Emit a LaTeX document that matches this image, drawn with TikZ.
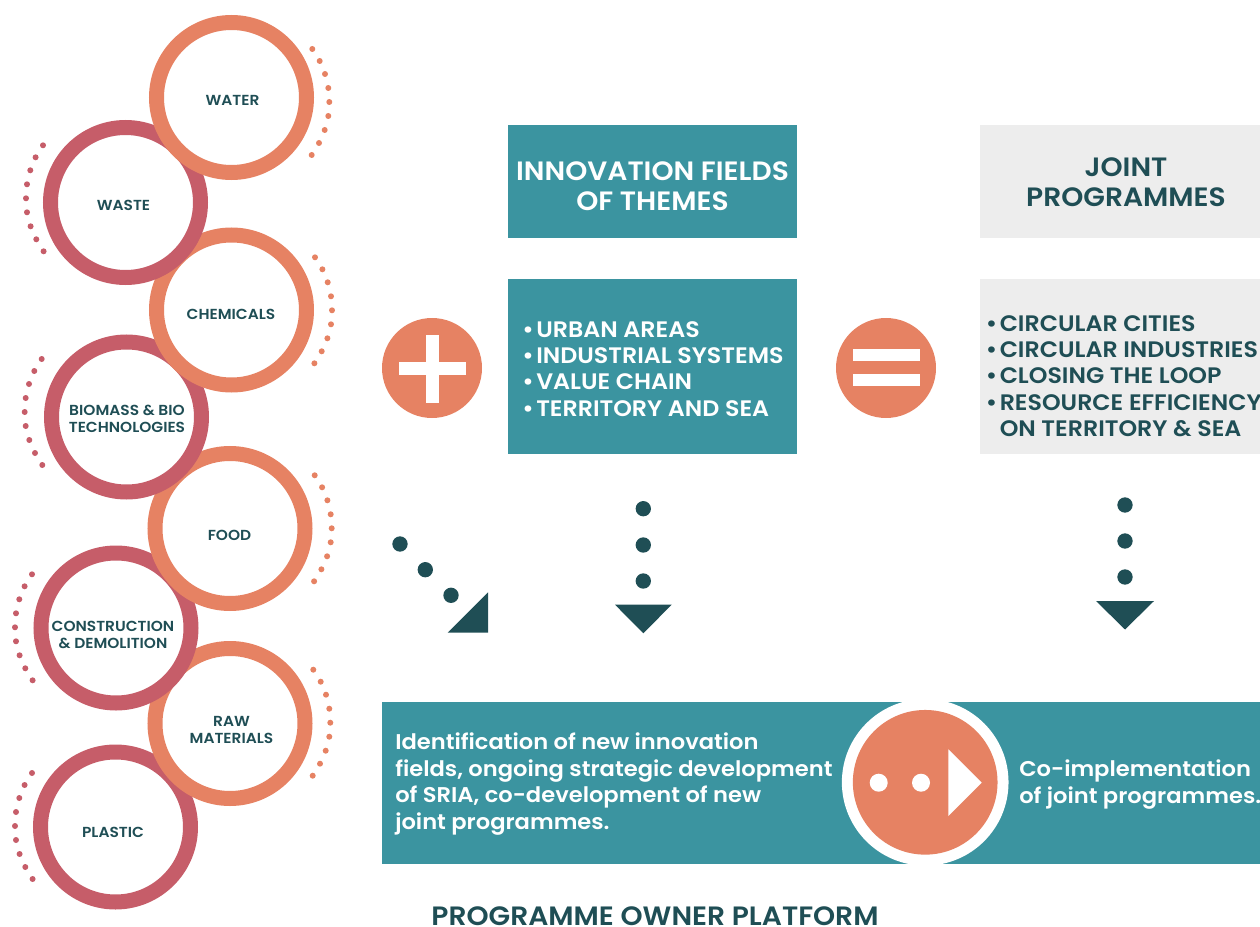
\documentclass[tikz,border=0pt]{standalone}
\usepackage{fontspec}
\setmainfont{Poppins}[BoldFont={Poppins SemiBold},BoldFeatures={FakeStretch=1.06}]
\definecolor{ink}{HTML}{1F4E55}
\definecolor{coral}{HTML}{E68263}
\definecolor{rose}{HTML}{C65D69}
\definecolor{teal}{HTML}{3B94A0}
\definecolor{pale}{HTML}{EDEDED}
\newcommand{\fs}[2]{\fontsize{#1}{#2}\selectfont\bfseries}
\newcommand{\bul}{\makebox[10.5pt][l]{•}}
\newcommand{\nobul}{\hspace*{10.5pt}}
\newcommand{\dotarc}[4]{% x y sign colour
  \foreach \dx/\dy in {-17/-53,-9.6/-41,-4.3/-28,-1/-14,0/0,-1/14,-4.6/28,-10.3/41,-17.6/53}
    \fill[#4] ({#1+#3*\dx},{#2+\dy}) circle (3);
}
\tikzset{
  x=0.75pt,y=-0.75pt,
  ring/.style={circle,draw=#1,line width=11.25pt,fill=white,minimum size=112.5pt,inner sep=0pt},
  ringlabel/.style={font=\fs{10.9}{12.8},text=ink,align=center,inner sep=0pt},
  head/.style={font=\fs{19.9}{22.3},align=center,inner sep=0pt},
  listing/.style={font=\fs{16.8}{19.6},align=left,inner sep=0pt,anchor=north west},
  band/.style={font=\fs{16}{19.9},text=white,align=left,inner sep=0pt,anchor=north west},
  ball/.style={circle,fill=#1,inner sep=0pt,minimum size=11.5pt},
  panel/.style={fill=#1,draw=none}
}
\begin{document}
\begin{tikzpicture}
\useasboundingbox (0,0) rectangle (1260,927);
% rings, lowest first
\dotarc{15}{826}{-1}{rose}
\node[ring=rose] (plastic) at (115.5,827) {};
\dotarc{330.3}{722.7}{1}{coral}
\node[ring=coral] (raw) at (230,723.5) {};
\dotarc{15}{627.3}{-1}{rose}
\node[ring=rose] (construction) at (116,628) {};
\dotarc{331.7}{528.3}{1}{coral}
\node[ring=coral] (food) at (230,528.5) {};
\dotarc{24.7}{412}{-1}{rose}
\node[ring=rose] (biomass) at (126.5,417) {};
\dotarc{332}{310.3}{1}{coral}
\node[ring=coral] (chemicals) at (231.5,310) {};
\dotarc{26}{198.3}{-1}{rose}
\node[ring=rose] (waste) at (125.5,202.5) {};
\dotarc{329.3}{102}{1}{coral}
\node[ring=coral] (water) at (231.5,97.5) {};
\node[ringlabel] (twater) at (232.5,100) {WATER};
\node[ringlabel] (twaste) at (123.5,205) {WASTE};
\node[ringlabel] (tchem) at (231,314) {CHEMICALS};
\node[ringlabel] (tbio) at (127,419) {BIOMASS \& BIO\\TECHNOLOGIES};
\node[ringlabel] (tfood) at (229.5,535) {FOOD};
\node[ringlabel] (tcon) at (113,634.5) {CONSTRUCTION\\\& DEMOLITION};
\node[ringlabel] (traw) at (231.5,729.5) {RAW\\MATERIALS};
\node[ringlabel] (tpla) at (113,832) {PLASTIC};
% panels
\fill[panel=teal] (508,125) rectangle (797,238);
\fill[panel=teal] (508,279) rectangle (797,454);
\fill[panel=pale] (980,125) rectangle (1260,238);
\fill[panel=pale] (980,279) rectangle (1260,454);
\node[head,text=white] (hfields) at (652.5,186) {INNOVATION FIELDS\\OF THEMES};
\node[head,text=ink] (hjoint) at (1126,182) {JOINT\\PROGRAMMES};
\node[listing,text=white] (lfields) at (522,321.5) {\bul URBAN AREAS\\\bul INDUSTRIAL SYSTEMS\\\bul VALUE CHAIN\\\bul TERRITORY AND SEA};
\node[listing,text=ink] (ljoint) at (985.5,315.5) {\bul CIRCULAR CITIES\\\bul CIRCULAR INDUSTRIES\\\bul CLOSING THE LOOP\\\bul RESOURCE EFFICIENCY\\\nobul ON TERRITORY \& SEA};
% plus and equals
\node[circle,fill=coral,minimum size=75pt,inner sep=0pt] (plus) at (432,368) {};
\fill[white] (399,362) rectangle (466,375);
\fill[white] (426,335) rectangle (439,403);
\node[circle,fill=coral,minimum size=75pt,inner sep=0pt] (equals) at (886,368) {};
\fill[white] (853,349) rectangle (920,361);
\fill[white] (853,374) rectangle (920,386);
% dotted arrows
\node[ball=ink] (a1) at (400,544) {};
\node[ball=ink] (a2) at (425.3,569.7) {};
\node[ball=ink] (a3) at (451,595.3) {};
\fill[ink] (488,592.3) -- (488,632.7) -- (447.7,632.7) -- cycle;
\node[ball=ink] (b1) at (643.3,508.7) {};
\node[ball=ink] (b2) at (643.3,545) {};
\node[ball=ink] (b3) at (643.3,581) {};
\fill[ink] (615,604.7) -- (671.7,604.7) -- (643.3,633.3) -- cycle;
\node[ball=ink] (c1) at (1125,505) {};
\node[ball=ink] (c2) at (1125,541) {};
\node[ball=ink] (c3) at (1125,577) {};
\fill[ink] (1096,601) -- (1154,601) -- (1125,629.5) -- cycle;
% band
\fill[panel=teal] (382,702) rectangle (1260,864);
\begin{scope}
\clip (382,702) rectangle (1260,864);
\node[circle,fill=white,minimum size=125pt,inner sep=0pt] (halo) at (925.2,782.3) {};
\end{scope}
\node[circle,fill=coral,minimum size=108.5pt,inner sep=0pt] (go) at (925.2,782.3) {};
\node[circle,fill=white,minimum size=13.5pt,inner sep=0pt] (g1) at (878.7,782.7) {};
\node[circle,fill=white,minimum size=13.5pt,inner sep=0pt] (g2) at (921,782.7) {};
\fill[white] (948.3,749.3) -- (981.7,782.7) -- (948.3,816) -- cycle;
\node[band] (bleft) at (395,732.5) {Identification of new innovation\\fields, ongoing strategic development\\of SRIA, co-development of new\\joint programmes.};
\node[band] (bright) at (1019,759.5) {Co-implementation\\of joint programmes.};
\node[font=\fs{19.9}{22},text=ink,inner sep=0pt] (platform) at (655,916) {PROGRAMME OWNER PLATFORM};
\end{tikzpicture}
\end{document}
